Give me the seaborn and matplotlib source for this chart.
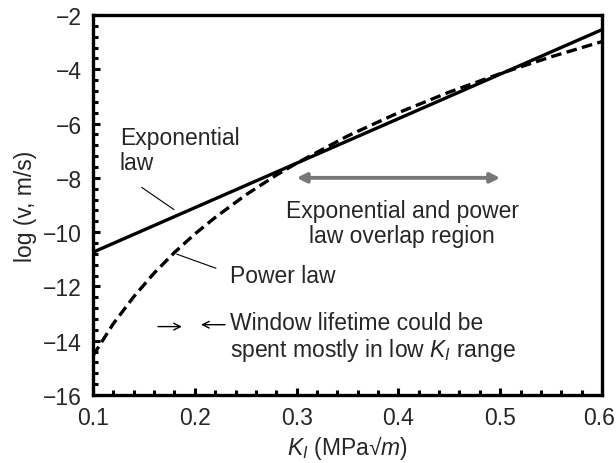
import matplotlib
matplotlib.use("Agg")
import matplotlib.pyplot as plt
import matplotlib.transforms as mtransforms
import seaborn as sns
import pandas as pd
from matplotlib.ticker import MultipleLocator

# ---- data ----
k_exp = [0.10, 0.60]
logv_exp = [-10.74, -2.54]

k_pow = [0.10, 0.12, 0.14, 0.16, 0.18, 0.20, 0.22, 0.25, 0.28, 0.30,
         0.35, 0.40, 0.45, 0.50, 0.55, 0.60]
logv_pow = [-14.55, -13.37, -12.38, -11.51, -10.75, -10.07, -9.46, -8.63,
            -7.90, -7.46, -6.46, -5.60, -4.84, -4.16, -3.54, -2.98]

x_ticks = [0.1, 0.2, 0.3, 0.4, 0.5, 0.6]
y_ticks = [-16, -14, -12, -10, -8, -6, -4, -2]
overlap_range = [0.30, 0.50]
overlap_y = -8.0

sns.set_style("ticks")
plt.rcParams['font.family'] = ['Liberation Sans', 'DejaVu Sans']
plt.rcParams['mathtext.fontset'] = 'custom'
plt.rcParams['mathtext.rm'] = 'Liberation Sans'
plt.rcParams['mathtext.it'] = 'Liberation Sans:italic'

fs = 16.5
fig = plt.figure(figsize=(6.16, 4.64), dpi=100)
ax = fig.add_axes([93/616, 68/464, 509/616, 380/464])

df_exp = pd.DataFrame({"K": k_exp, "logv": logv_exp})
df_pow = pd.DataFrame({"K": k_pow, "logv": logv_pow})
sns.lineplot(data=df_exp, x="K", y="logv", ax=ax, color="black", lw=2.4)
sns.lineplot(data=df_pow, x="K", y="logv", ax=ax, color="black", lw=2.4,
             linestyle=(0, (3.2, 1.6)))

ax.set_xlim(0.1, 0.6)
ax.set_ylim(-16, -2)
ax.set_xticks(x_ticks)
ax.set_xticklabels([f"{v:.1f}" for v in x_ticks])
ax.set_yticks(y_ticks)
ax.xaxis.set_minor_locator(MultipleLocator(0.02))
ax.yaxis.set_minor_locator(MultipleLocator(0.4))
ax.tick_params(which='both', direction='in', top=False, right=False,
               width=2.2, color='black')
ax.tick_params(which='major', length=5, labelsize=fs, pad=8)
ax.tick_params(which='minor', length=3.5)
for s in ax.spines.values():
    s.set_linewidth(2.4)
    s.set_color('black')

# nudge the last x tick label so it stays inside the figure
last = ax.get_xticklabels()[-1]
last.set_transform(last.get_transform() +
                   mtransforms.ScaledTranslation(-3/100, 0, fig.dpi_scale_trans))

ax.set_xlabel(r"$K_I$ (MPa√$m$)", fontsize=fs, labelpad=3)
ax.set_ylabel("log (v, m/s)", fontsize=fs, labelpad=4)

# overlap arrow
ax.annotate("", xy=(overlap_range[0], overlap_y), xytext=(overlap_range[1], overlap_y),
            arrowprops=dict(arrowstyle="<|-|>", color="#777777", lw=2.8,
                            mutation_scale=14, shrinkA=0, shrinkB=0))
ax.text(0.4036, -9.66, "Exponential and power\nlaw overlap region", fontsize=fs,
        ha="center", va="center", linespacing=1.1)

# labels with leader lines
ax.text(0.1265, -6.97, "Exponential\nlaw", fontsize=fs, ha="left", va="center",
        linespacing=1.1)
ax.plot([0.1478, 0.1796], [-8.35, -9.17], color="black", lw=0.8)

ax.text(0.2346, -11.6, "Power law", fontsize=fs, ha="left", va="center")
ax.plot([0.1822, 0.2208], [-10.81, -11.33], color="black", lw=0.8)

ax.text(0.2346, -13.86, "Window lifetime could be\nspent mostly in low $K_I$ range",
        fontsize=fs, ha="left", va="center", linespacing=1.1)
ax.annotate("", xy=(0.1874, -13.48), xytext=(0.1638, -13.48),
            arrowprops=dict(arrowstyle="->", color="black", lw=1.0,
                            mutation_scale=12, shrinkA=0, shrinkB=0))
ax.annotate("", xy=(0.2061, -13.41), xytext=(0.2297, -13.41),
            arrowprops=dict(arrowstyle="->", color="black", lw=1.0,
                            mutation_scale=12, shrinkA=0, shrinkB=0))

fig.savefig("out.png", dpi=100)
